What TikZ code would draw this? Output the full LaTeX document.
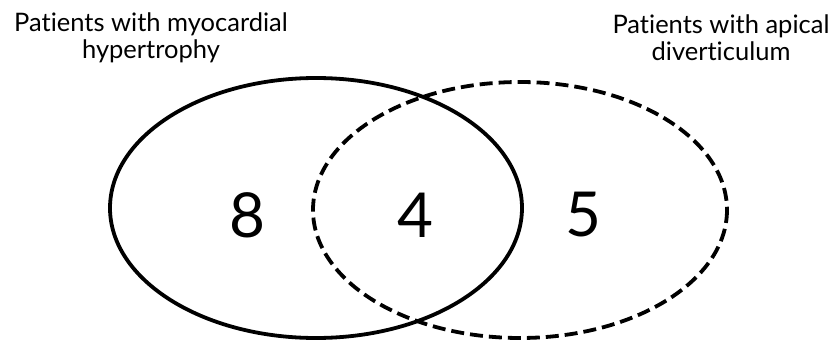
\documentclass[tikz,border=0pt]{standalone}
\usepackage{fontspec}
\setmainfont{Lato}[Ligatures=NoCommon]
\begin{document}
\begin{tikzpicture}[x=1pt,y=-1pt,
  ring/.style={line width=3.8pt},
  dring/.style={line width=3.8pt, dash pattern=on 13pt off 6pt},
  lbl/.style={font=\fontsize{25.5}{27}\selectfont, align=center, inner sep=0pt},
  num/.style={font=\fontsize{62}{62}\selectfont, inner sep=0pt}]
\useasboundingbox (0,0) rectangle (833,340);
\draw[ring] (316,208) ellipse [x radius=206, y radius=130];
\draw[dring] (520,210) ellipse [x radius=207, y radius=128];
\node[lbl] (left) at (151,38) {Patients with myocardial\\hypertrophy};
\node[lbl] (right) at (721,38) {Patients with apical\\diverticulum};
\node[num] (n8) at (247,215) {8};
\node[num] (n4) at (415,215) {4};
\node[num] (n5) at (583,215) {5};
\end{tikzpicture}
\end{document}
